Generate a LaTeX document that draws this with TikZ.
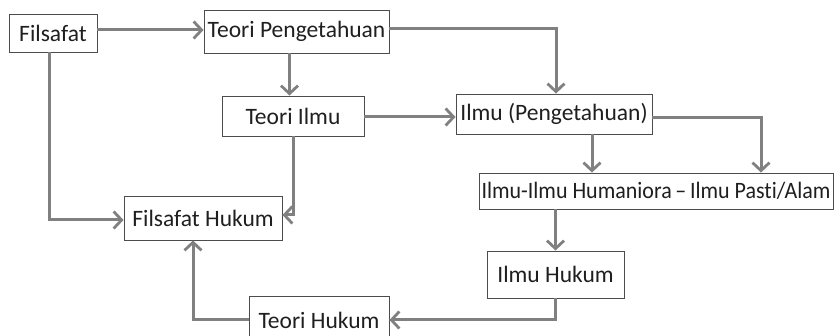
\documentclass[tikz,border=0pt]{standalone}
\usepackage{fontspec}
\setmainfont[Ligatures={NoCommon,NoRare}]{Carlito}
\usetikzlibrary{arrows.meta}
\begin{document}
\begin{tikzpicture}[x=1pt,y=-1pt,
  box/.style={draw=black!70,line width=0.9pt,fill=white,text=black!88,inner sep=0pt,
    font=\fontsize{23.5}{26}\selectfont,anchor=center},
  arr/.style={draw=black!50,line width=3pt,-{Straight Barb[length=8pt,width=17pt,line width=2.8pt]}}]
\useasboundingbox (0,0) rectangle (836,336);
\node[box,minimum width=88pt,minimum height=38pt] (fil) at (53,33) {Filsafat};
\node[box,minimum width=185pt,minimum height=43pt] (tp) at (296.5,31.5) {Teori Pengetahuan};
\node[box,minimum width=142pt,minimum height=40pt] (ti) at (293,116) {Teori Ilmu};
\node[box,minimum width=196pt,minimum height=40pt] (ip) at (554,114) {Ilmu (Pengetahuan)};
\node[box,minimum width=354pt,minimum height=36pt] (hp) at (656,191) {\resizebox{349pt}{\height}{Ilmu-Ilmu Humaniora\,–\,Ilmu Pasti/Alam}};
\node[box,minimum width=137pt,minimum height=47pt] (ih) at (555.5,274.5) {Ilmu Hukum};
\node[box,minimum width=158pt,minimum height=44pt] (fh) at (203,218) {Filsafat Hukum};
\node[box,minimum width=140pt,minimum height=48pt] (th) at (319,320) {Teori Hukum};
\draw[arr] ([yshift=3pt]fil.east) -- ([yshift=3pt]fil.east -| tp.west);
\draw[arr] ([xshift=-7pt]tp.south) -- ([xshift=-7pt]tp.south |- ti.north);
\draw[arr] ([yshift=3pt]tp.east) -| ([xshift=2pt]ip.north);
\draw[arr] ([yshift=-1pt]ti.east) -- ([yshift=-1pt]ti.east -| ip.west);
\draw[arr] ([xshift=38pt]ip.south) -- ([xshift=38pt]ip.south |- hp.north);
\draw[arr] ([yshift=-4pt]ip.east) -| ([xshift=105pt]hp.north);
\draw[arr] (hp.south -| ih.north) -- (ih.north);
\draw[arr] (ih.south) |- (th.east);
\draw[arr] (th.west) -| ([xshift=-10pt]fh.south);
\draw[arr] ([xshift=-4pt]fil.south) |- ([yshift=-2pt]fh.west);
\draw[arr] (ti.south) |- ([yshift=3pt]fh.east);
\end{tikzpicture}
\end{document}
